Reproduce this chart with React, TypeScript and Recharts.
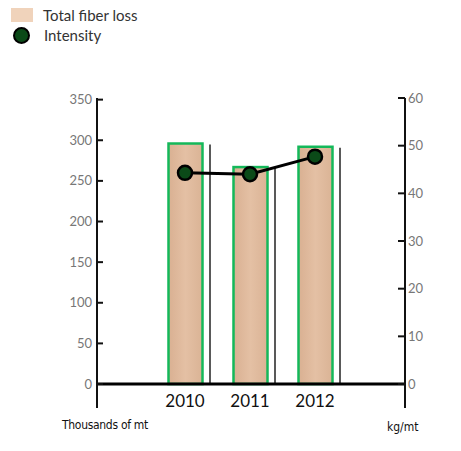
import React from "react";
import {
  ComposedChart, Bar, Line, XAxis, YAxis, ReferenceLine,
} from "recharts";

const years = ["2010", "2011", "2012"];
const fiberLoss = [296, 267, 292]; // thousands of mt
const intensity = [44.3, 44.0, 47.7]; // kg/mt

const leftTicks = [0, 50, 100, 150, 200, 250, 300, 350];
const rightTicks = [0, 10, 20, 30, 40, 50, 60];

const data = years.map((year, i) => ({
  year,
  fiberLoss: fiberLoss[i],
  intensity: intensity[i],
}));

const FONT = "Lato, 'Open Sans', sans-serif";
const NARROW = "'Liberation Sans Narrow', 'DejaVu Sans Condensed', sans-serif";
const BAR_EDGE = "#14b85a";

// bar with a green outline and a thin dark rule standing just to its right
function FiberBar(props: any) {
  const { x, y, width, height } = props;
  if (height <= 0) return null;
  const rx = x + width + 7.5;
  return (
    <g>
      <rect x={x} y={y} width={width} height={height} fill="url(#wood)" stroke={BAR_EDGE} strokeWidth={2.5} />
      <line x1={rx} x2={rx} y1={y + 1} y2={y + height} stroke="#222" strokeWidth={1.5} />
    </g>
  );
}

function YearTick(props: any) {
  const { x, y, payload } = props;
  return (
    <text x={x} y={y - 1} textAnchor="middle" fontSize={17} fill="#111" fontFamily={FONT}>
      {payload.value}
    </text>
  );
}

export default function App() {
  return (
    <div style={{ position: "absolute", left: 0, top: 0, width: 461, height: 451, fontFamily: FONT }}>
      <div style={{ position: "absolute", left: 11, top: 5, fontSize: 15, color: "#333", lineHeight: "20px" }}>
        <div style={{ display: "flex", alignItems: "center" }}>
          <span style={{ display: "inline-block", width: 22, height: 14, background: "#f0d3bb", marginRight: 10 }} />
          Total fiber loss
        </div>
        <div style={{ display: "flex", alignItems: "center", marginTop: 0 }}>
          <span style={{
            display: "inline-block", width: 13, height: 13, borderRadius: "50%",
            background: "#0b4a18", border: "2px solid #000", margin: "0 14px 0 2px",
          }} />
          Intensity
        </div>
      </div>

      <ComposedChart
        width={461}
        height={451}
        data={data}
        margin={{ top: 98, right: 0, bottom: 13, left: 37 }}
      >
        <defs>
          <linearGradient id="wood" x1="0" y1="0" x2="1" y2="0">
            <stop offset="0%" stopColor="#d9b092" />
            <stop offset="50%" stopColor="#e4c0a4" />
            <stop offset="100%" stopColor="#dab395" />
          </linearGradient>
        </defs>
        <XAxis
          dataKey="year"
          padding={{ left: 55.5, right: 57.5 }}
          axisLine={false}
          tickLine={false}
          tickSize={0}
          tickMargin={0}
          height={30}
          tick={<YearTick />}
        />
        <YAxis
          yAxisId="left"
          orientation="left"
          width={60}
          domain={[-29.5, 352]}
          ticks={leftTicks}
          allowDataOverflow
          axisLine={{ stroke: "#111", strokeWidth: 2 }}
          tickLine={{ stroke: "#111", strokeWidth: 2 }}
          tickSize={-6}
          tickMargin={11}
          tick={{ fontSize: 13, fill: "#777", fontFamily: FONT }}
        />
        <YAxis
          yAxisId="right"
          orientation="right"
          width={56}
          domain={[-5.03, 60]}
          ticks={rightTicks}
          allowDataOverflow
          axisLine={{ stroke: "#111", strokeWidth: 2 }}
          tickLine={{ stroke: "#111", strokeWidth: 2 }}
          tickSize={-7}
          tickMargin={10}
          tick={{ fontSize: 13, fill: "#777", fontFamily: FONT }}
        />
        <Bar
          yAxisId="left"
          dataKey="fiberLoss"
          barSize={34}
          shape={<FiberBar />}
          isAnimationActive={false}
        />
        <ReferenceLine yAxisId="left" y={0} stroke="#000" strokeWidth={3} />
        <Line
          yAxisId="right"
          dataKey="intensity"
          stroke="#000"
          strokeWidth={3}
          dot={{ r: 7, fill: "#0b4a18", stroke: "#000", strokeWidth: 2.5 }}
          activeDot={false}
          isAnimationActive={false}
        />
      </ComposedChart>

      <div style={{
        position: "absolute", left: 62, top: 418, fontSize: 12, color: "#111",
        fontFamily: NARROW, letterSpacing: -0.3,
      }}>
        Thousands of mt
      </div>
      <div style={{
        position: "absolute", left: 387, top: 420, fontSize: 12, color: "#111",
        fontFamily: NARROW,
      }}>
        kg/mt
      </div>
    </div>
  );
}
